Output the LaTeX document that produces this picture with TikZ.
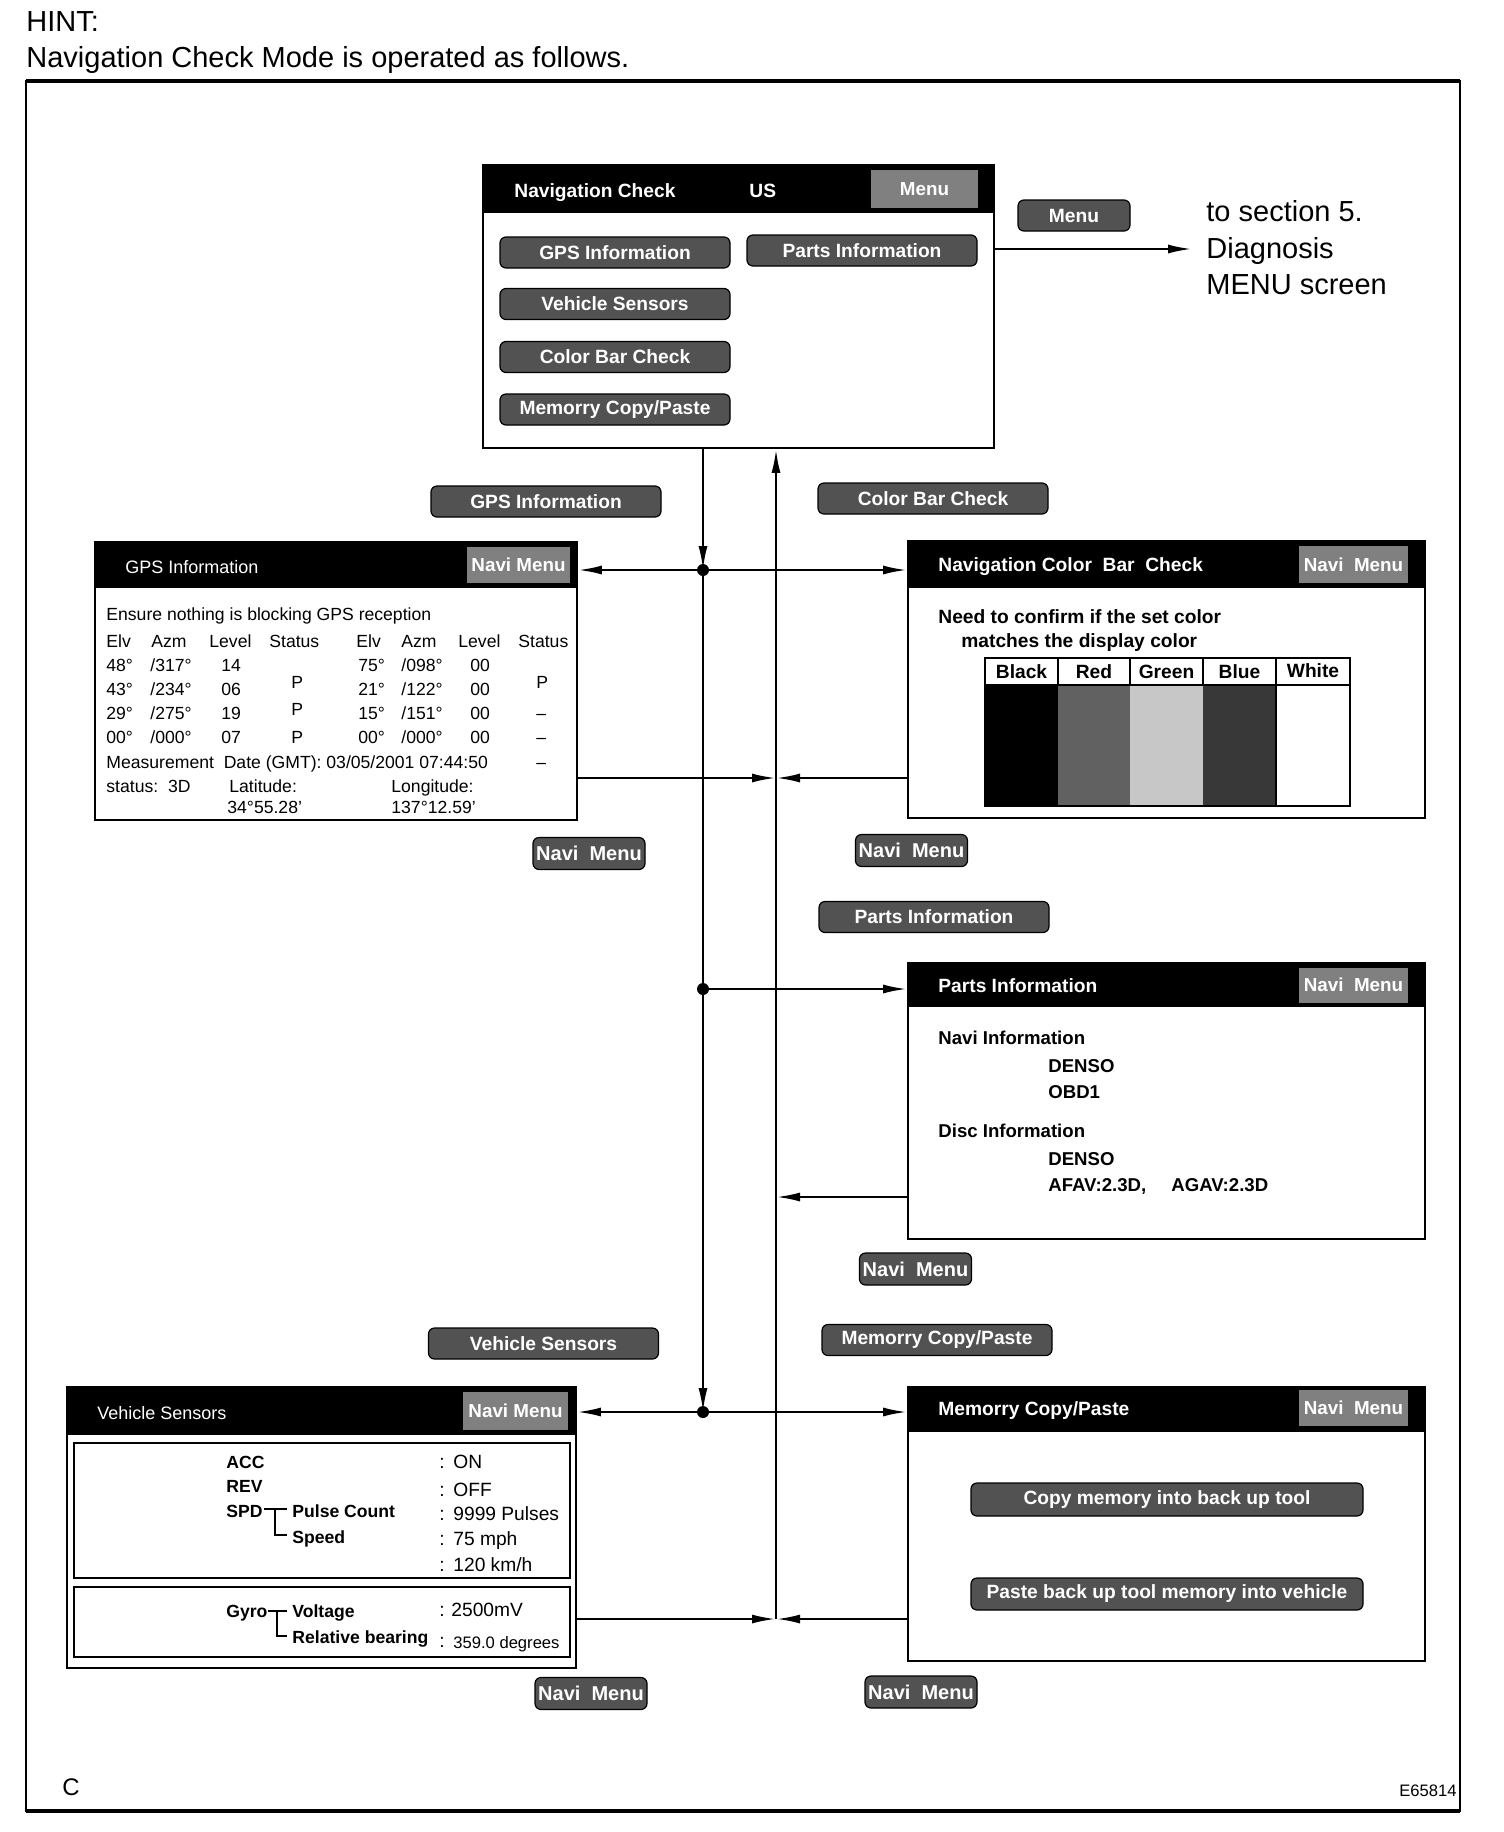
\documentclass[tikz,border=0pt]{standalone}
\usepackage{fontspec}
\setmainfont{Liberation Sans}
\usetikzlibrary{arrows.meta,fit}
\newcommand\myfs[1]{\fontsize{#1}{#1}\selectfont}
\begin{document}
\begin{tikzpicture}[x=0.5pt,y=-0.5pt,
  frame/.style={draw,line width=0.9pt,inner sep=0pt},
  tx/.style={anchor=west,inner sep=0pt,text height=1.38ex,text depth=0pt},
  ttl/.style={tx,text=white,font=\bfseries\myfs{9.6}},
  ttlr/.style={tx,text=white,font=\myfs{9}},
  patch/.style={fill=black!50,text=white,font=\bfseries\myfs{9.4},inner sep=0pt},
  btn/.style={draw=black,line width=0.6pt,rounded corners=3pt,fill=black!68,text=white,font=\bfseries\myfs{9.6},inner sep=0pt,minimum width=115pt,minimum height=15.5pt},
  nbtn/.style={btn,minimum width=56pt,minimum height=16pt,font=\bfseries\myfs{10}},
  gt/.style={tx,font=\myfs{8.8}},
  bt/.style={tx,font=\bfseries\myfs{9.6}},
  pt/.style={tx,font=\bfseries\myfs{9.3}},
  vl/.style={tx,font=\bfseries\myfs{8.8}},
  vt/.style={tx,font=\myfs{9.6}},
  conn/.style={line width=1.2pt},
  arr/.style={conn,-{Latex[length=12pt,width=4.5pt]}}]
\useasboundingbox (0,0) rectangle (1504,1832);

% page heading
\node[tx,font=\myfs{14.5}] (hint) at (26,24) {HINT:};
\node[tx,font=\myfs{14.5}] (hint2) at (26,60) {Navigation Check Mode is operated as follows.};

% outer frame
\draw[line width=0.8pt] (26,81) rectangle (1460,1811);
\draw[line width=1.6pt] (26,81) -- (1460,81) (26,1811) -- (1460,1811);
\node[tx,font=\myfs{12}] (cc) at (62,1788) {C};
\node[anchor=east,inner sep=0pt,text height=1.38ex,text depth=0pt,font=\myfs{8.3}] (code) at (1457,1789) {E65814};

% ---------- main screen ----------
\fill (483,165) rectangle (994,213);
\node[frame,fit={(483,165)(994,448)}] (main) {};
\node[patch,minimum width=53.5pt,minimum height=19pt] (mainmenu) at (924.5,189) {Menu};
\node[ttl] (maint) at (514,190) {Navigation Check};
\node[ttl] (mainus) at (749,190) {US};
\node[btn] (gpsB) at (615,252.5) {GPS Information};
\node[btn] (vehB) at (615,304) {Vehicle Sensors};
\node[btn] (colB) at (615,357) {Color Bar Check};
\node[btn] (memB) at (615,409.5) {Memorry Copy/Paste};
\node[btn] (partsB) at (862,250.5) {Parts Information};

% menu exit
\node[btn,minimum width=56pt] (menuB) at (1074,215.5) {Menu};
\node[anchor=west,inner sep=0pt,align=left,font=\fontsize{14.5}{18.3}\selectfont] (tosec) at (1206,248) {to section 5.\\Diagnosis\\MENU screen};
\coordinate (menuend) at (1192,249);
\draw[arr] (main.east |- menuend) -- (menuend);

% ---------- GPS screen ----------
\fill (95,542) rectangle (577,588);
\node[frame,fit={(95,542)(577,820)}] (gps) {};
\node[patch,minimum width=51.5pt,minimum height=18pt] (gpsnm) at (518.5,565) {Navi Menu};
\node[ttlr] (gpst) at (125,566) {GPS Information};
\node[gt] (g0) at (106,613) {Ensure nothing is blocking GPS reception};
\node[gt] (h1) at (106,640) {Elv};
\node[gt] (h2) at (151,640) {Azm};
\node[gt] (h3) at (209,640) {Level};
\node[gt] (h4) at (269,640) {Status};
\node[gt] (h5) at (356,640) {Elv};
\node[gt] (h6) at (401,640) {Azm};
\node[gt] (h7) at (458,640) {Level};
\node[gt] (h8) at (518,640) {Status};
\node[gt] (a1) at (106,664) {48°};
\node[gt] (b1) at (150,664) {/317°};
\node[gt] (c1) at (221,664) {14};
\node[gt] (d1) at (358,664) {75°};
\node[gt] (e1) at (401,664) {/098°};
\node[gt] (f1) at (470,664) {00};
\node[gt] (a2) at (106,688) {43°};
\node[gt] (b2) at (150,688) {/234°};
\node[gt] (c2) at (221,688) {06};
\node[gt] (d2) at (358,688) {21°};
\node[gt] (e2) at (401,688) {/122°};
\node[gt] (f2) at (470,688) {00};
\node[gt] (a3) at (106,712) {29°};
\node[gt] (b3) at (150,712) {/275°};
\node[gt] (c3) at (221,712) {19};
\node[gt] (d3) at (358,712) {15°};
\node[gt] (e3) at (401,712) {/151°};
\node[gt] (f3) at (470,712) {00};
\node[gt] (a4) at (106,736) {00°};
\node[gt] (b4) at (150,736) {/000°};
\node[gt] (c4) at (221,736) {07};
\node[gt] (d4) at (358,736) {00°};
\node[gt] (e4) at (401,736) {/000°};
\node[gt] (f4) at (470,736) {00};
\node[gt] (p1) at (291,681) {P};
\node[gt] (p2) at (291,708) {P};
\node[gt] (p3) at (291,736) {P};
\node[gt] (q1) at (536,681) {P};
\node[gt] (q2) at (536,712) {–};
\node[gt] (q3) at (536,736) {–};
\node[gt] (q4) at (536,761) {–};
\node[gt] (meas) at (106,761) {Measurement\ \ Date (GMT): 03/05/2001 07:44:50};
\node[gt] (st) at (106,785) {status:\ \ 3D};
\node[gt] (lat) at (229,785) {Latitude:};
\node[gt] (lon) at (391,785) {Longitude:};
\node[gt] (latv) at (227,806) {34°55.28'};
\node[gt] (lonv) at (391,806) {137°12.59'};

% ---------- Color bar screen ----------
\fill (908,541) rectangle (1425,588);
\node[frame,fit={(908,541)(1425,818)}] (color) {};
\node[patch,minimum width=54.5pt,minimum height=18.5pt] (colnm) at (1353.5,564.5) {Navi\ \ Menu};
\node[ttl] (colt) at (938,564) {Navigation Color\ \ Bar\ \ Check};
\node[bt] (cl1) at (938,616) {Need to confirm if the set color};
\node[bt] (cl2) at (961,640) {matches the display color};
\fill[black] (985,685) rectangle (1058,806);
\fill[black!62] (1058,685) rectangle (1130,806);
\fill[black!22] (1130,685) rectangle (1203,806);
\fill[black!78] (1203,685) rectangle (1276,806);
\draw[line width=1pt] (985,658) rectangle (1350,806);
\draw[line width=1pt] (985,685) -- (1350,685);
\draw[line width=1pt] (1058,658) -- (1058,685) (1130,658) -- (1130,685) (1203,658) -- (1203,685) (1276,658) -- (1276,806);
\node[font=\bfseries\myfs{9.6},inner sep=0pt] (cblack) at (1021.5,672) {Black};
\node[font=\bfseries\myfs{9.6},inner sep=0pt] (cred) at (1094,672) {Red};
\node[font=\bfseries\myfs{9.6},inner sep=0pt] (cgreen) at (1166.5,672) {Green};
\node[font=\bfseries\myfs{9.6},inner sep=0pt] (cblue) at (1239.5,672) {Blue};
\node[font=\bfseries\myfs{9.6},inner sep=0pt] (cwhite) at (1313,671) {White};

% ---------- Parts screen ----------
\fill (908,963) rectangle (1425,1007);
\node[frame,fit={(908,963)(1425,1239)}] (parts) {};
\node[patch,minimum width=54.5pt,minimum height=17.5pt] (partsnm) at (1353.5,985) {Navi\ \ Menu};
\node[ttl] (partst) at (938,985) {Parts Information};
\node[pt] (pa) at (938,1037) {Navi Information};
\node[pt] (pb) at (1048,1065) {DENSO};
\node[pt] (pc) at (1048,1091) {OBD1};
\node[pt] (pd) at (938,1130) {Disc Information};
\node[pt] (pe) at (1048,1158) {DENSO};
\node[pt] (pf) at (1048,1184) {AFAV:2.3D,};
\node[pt] (pg) at (1171,1184) {AGAV:2.3D};

% ---------- Vehicle sensors screen ----------
\fill (67,1387) rectangle (576,1435);
\node[frame,fit={(67,1387)(576,1668)}] (veh) {};
\node[patch,minimum width=52.5pt,minimum height=19pt] (vehnm) at (515.5,1411) {Navi Menu};
\node[ttlr] (veht) at (97,1412) {Vehicle Sensors};
\draw[line width=0.7pt] (74,1443) rectangle (570,1578);
\draw[line width=0.7pt] (74,1587) rectangle (570,1657);
\node[vl] (acc) at (226,1461) {ACC};
\node[vl] (rev) at (226,1485) {REV};
\node[vl] (spd) at (226,1510) {SPD};
\node[vl] (pcount) at (292,1510) {Pulse Count};
\node[vl] (speed) at (292,1536) {Speed};
\draw[line width=0.8pt] (264,1509) -- (287,1509) (275,1509) -- (275,1535) -- (287,1535);
\node[vt] (k1) at (439,1461) {:};
\node[vt] (k2) at (439,1489) {:};
\node[vt] (k3) at (439,1513) {:};
\node[vt] (k4) at (439,1538) {:};
\node[vt] (k5) at (439,1564) {:};
\node[vt] (v1) at (453,1461) {ON};
\node[vt] (v2) at (453,1489) {OFF};
\node[vt] (v3) at (453,1513) {9999 Pulses};
\node[vt] (v4) at (453,1538) {75 mph};
\node[vt] (v5) at (453,1564) {120 km/h};
\node[vl] (gyro) at (226,1610) {Gyro};
\node[vl] (volt) at (292,1610) {Voltage};
\node[vl] (relb) at (292,1636) {Relative bearing};
\draw[line width=0.8pt] (268,1611) -- (287,1611) (277,1611) -- (277,1636) -- (287,1636);
\node[vt] (k6) at (439,1609) {:};
\node[vt] (k7) at (439,1640) {:};
\node[vt] (v6) at (451,1609) {2500mV};
\node[tx,font=\myfs{8.3}] (v7) at (453,1641) {359.0 degrees};

% ---------- Memory copy screen ----------
\fill (908,1387) rectangle (1425,1432);
\node[frame,fit={(908,1387)(1425,1661)}] (mem) {};
\node[patch,minimum width=54.5pt,minimum height=18pt] (memnm) at (1353.5,1408) {Navi\ \ Menu};
\node[ttl] (memt) at (938,1408) {Memorry Copy/Paste};
\node[btn,minimum width=196pt,minimum height=16.5pt] (copyB) at (1167,1499.5) {Copy memory into back up tool};
\node[btn,minimum width=196pt,minimum height=16pt] (pasteB) at (1167,1594) {Paste back up tool memory into vehicle};

% ---------- floating buttons ----------
\node[btn] (gpsL) at (546,501.5) {GPS Information};
\node[btn] (colL) at (933,498.5) {Color Bar Check};
\node[btn] (partsL) at (934,917) {Parts Information};
\node[btn] (vehL) at (543.5,1343.5) {Vehicle Sensors};
\node[btn] (memL) at (937,1340) {Memorry Copy/Paste};
\node[nbtn] (n1) at (589,853.5) {Navi\ \ Menu};
\node[nbtn] (n2) at (911.5,850.5) {Navi\ \ Menu};
\node[nbtn] (n3) at (915.5,1269) {Navi\ \ Menu};
\node[nbtn] (n4) at (591,1693.5) {Navi\ \ Menu};
\node[nbtn] (n5) at (921,1692) {Navi\ \ Menu};

% ---------- connectors ----------
\coordinate (j1) at (703,570);
\coordinate (j2) at (703,989);
\coordinate (j3) at (703,1412);
\coordinate (r1) at (776,778);
\coordinate (r2) at (776,1197);
\coordinate (r3) at (776,1619);
\draw[arr] (main.south -| j1) -- (j1);
\draw[conn] (j1) -- (j2);
\draw[arr] (j2) -- (j3);
\draw[arr] (r3) -- (main.south -| r3);
\draw[arr] (j1) -- (gps.east |- j1);
\draw[arr] (j1) -- (color.west |- j1);
\draw[arr] (j2) -- (parts.west |- j2);
\draw[arr] (j3) -- (veh.east |- j3);
\draw[arr] (j3) -- (mem.west |- j3);
\draw[arr] (gps.east |- r1) -- (r1);
\draw[arr] (color.west |- r1) -- (r1);
\draw[arr] (parts.west |- r2) -- (r2);
\draw[arr] (veh.east |- r3) -- (r3);
\draw[arr] (mem.west |- r3) -- (r3);
\fill (j1) circle (3pt);
\fill (j2) circle (3pt);
\fill (j3) circle (3pt);
\end{tikzpicture}
\end{document}
